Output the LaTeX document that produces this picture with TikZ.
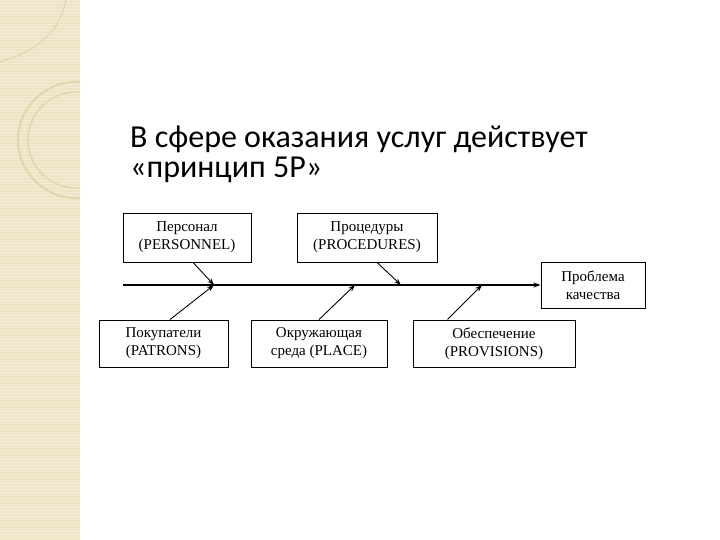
\documentclass[tikz,border=0pt]{standalone}
\usepackage{fontspec}
\setmainfont{Liberation Serif}
\newfontfamily\titlefont{Carlito}
\usetikzlibrary{arrows.meta}
\definecolor{bandbeige}{RGB}{238,227,196}
\definecolor{bandline}{RGB}{226,212,172}
\tikzset{
  cause/.style={draw, line width=0.9pt, align=center, inner sep=0pt,
    font=\fontsize{15}{18}\selectfont},
  heading/.style={anchor=base west, inner sep=0pt,
    font=\titlefont\fontsize{32}{30}\selectfont},
  arr/.style={-{Stealth[length=7pt,width=5pt]}, line width=0.9pt}
}
\begin{document}
\begin{tikzpicture}[x=1pt, y=-1pt]
  \useasboundingbox (0,0) rectangle (720,540);
  % left band
  \fill[bandbeige] (0,0) rectangle (80,540);
  \foreach \y in {0,3,...,540}
    \draw[white, opacity=0.35, line width=0.6pt] (0,\y) -- (80,\y);
  \begin{scope}
    \clip (0,0) rectangle (80,540);
    \draw[bandline, line width=2pt] (76,140) circle[radius=58];
    \draw[bandline, line width=1.5pt] (76,140) circle[radius=48];
    \draw[bandline, line width=1.2pt] (66,0) .. controls (60,30) and (40,50) .. (0,62);
  \end{scope}
  % title
  \node[heading] (title) at (130,148) {В сфере оказания услуг действует};
  \node[heading] (title2) at (130,178) {«принцип 5Р»};
  % boxes
  \node[cause, minimum width=128, minimum height=49] (pers) at (187,237.5)
    {Персонал\\(PERSONNEL)};
  \node[cause, minimum width=140, minimum height=49] (proc) at (367,237.5)
    {Процедуры\\(PROCEDURES)};
  \node[cause, minimum width=104, minimum height=46] (prob) at (593,285)
    {Проблема\\качества};
  \node[cause, minimum width=129, minimum height=47] (patr) at (163.5,343.5)
    {Покупатели\\(PATRONS)};
  \node[cause, minimum width=136, minimum height=47] (place) at (319,343.5)
    {Окружающая\\среда (PLACE)};
  \node[cause, minimum width=162, minimum height=47] (prov) at (494,343.5)
    {Обеспечение\\(PROVISIONS)};
  % spine
  \coordinate (tail) at (123,285);
  \coordinate (j1) at (214,285);
  \coordinate (j2) at (355,285);
  \coordinate (j3) at (401,285);
  \coordinate (j4) at (482,285);
  \draw[arr, line width=1.3pt] (tail) -- (prob.west);
  \begin{scope}[arr]
    \draw ([xshift=6]pers.south) -- (j1);
    \draw ([xshift=6.5]patr.north) -- (j1);
    \draw (place.north) -- (j2);
    \draw ([xshift=10]proc.south) -- (j3);
    \draw ([xshift=35]prov.north west) -- (j4);
  \end{scope}
\end{tikzpicture}
\end{document}
